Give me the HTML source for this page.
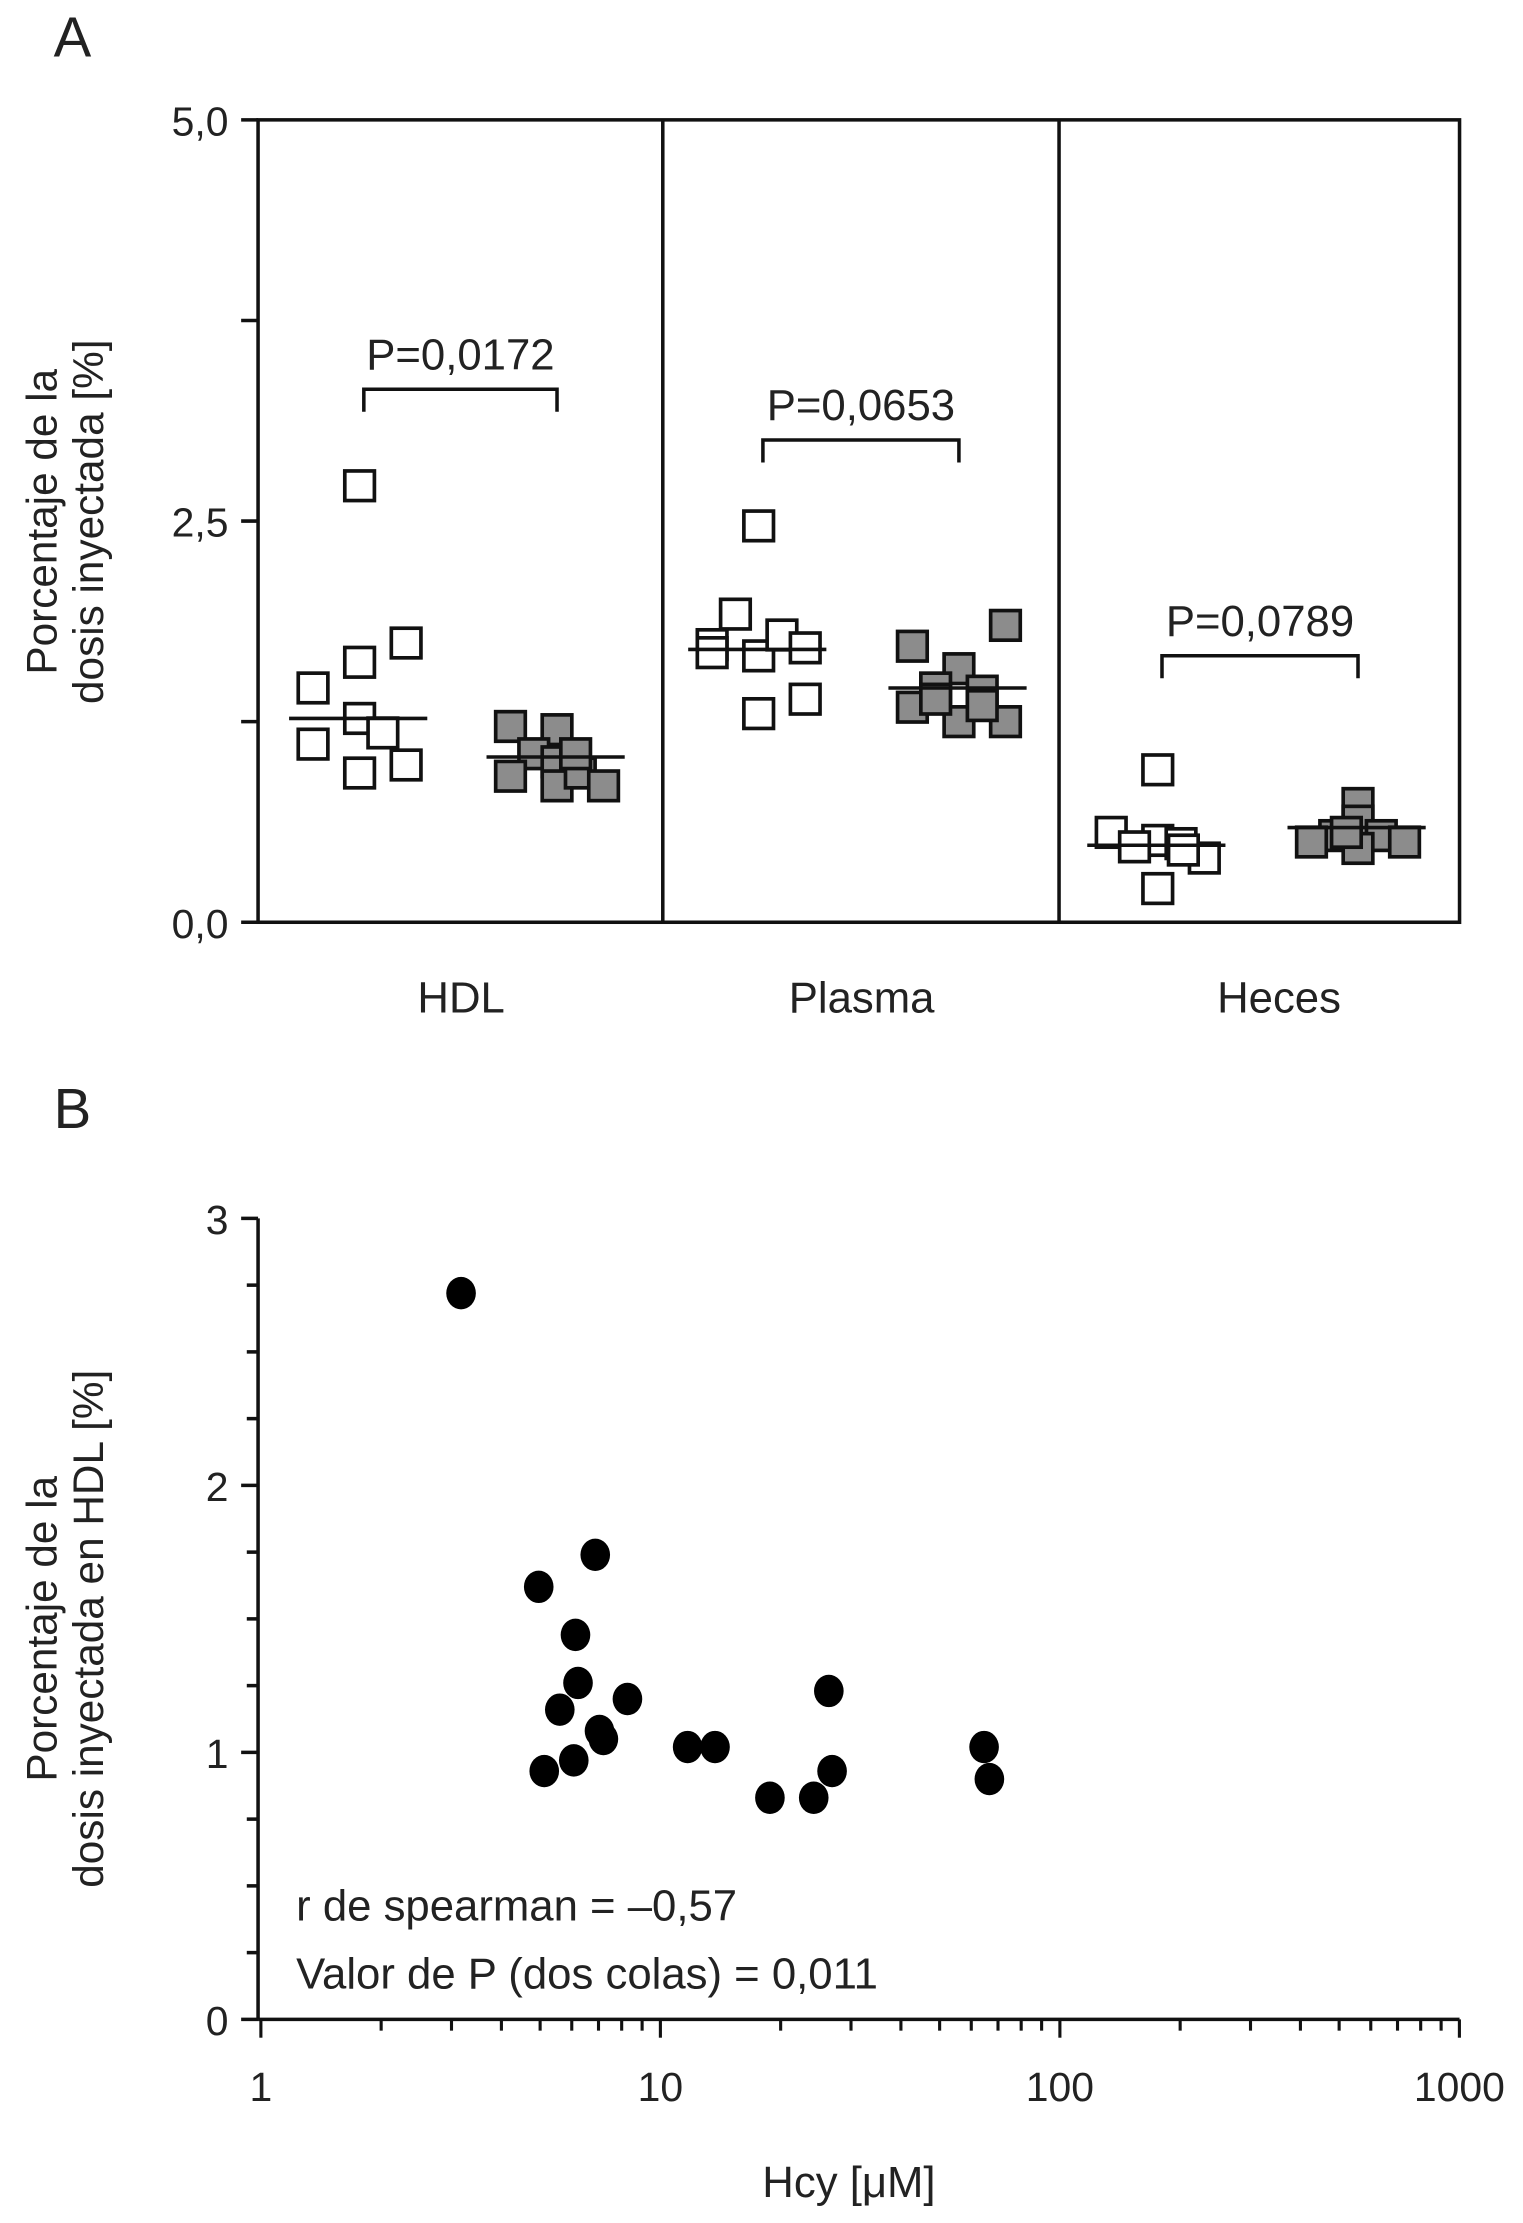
<!DOCTYPE html>
<html><head><meta charset="utf-8"><style>
html,body{margin:0;padding:0;background:#fff}
svg{display:block}
text{font-family:"Liberation Sans",Arial,sans-serif;fill:#222}
</style></head><body>
<svg id="fig" width="1523" height="2223" viewBox="0 0 1080 1576.4" preserveAspectRatio="none">
<text x="38" y="40" font-size="40">A</text>
<text x="38" y="800" font-size="40">B</text>
<g id="A"></g>
<g id="B"></g>
</svg>
<script>
// Panel A data
const groupNames = ["HDL","Plasma","Heces"];
const pLabels = ["P=0,0172","P=0,0653","P=0,0789"];
const hdlWhite = [2.72,1.46,1.62,1.74,1.11,1.27,1.18,0.93,0.98];
const hdlWhiteX = [0,-1,0,1,-1,0,0.5,0,1];
const hdlGray = [1.22,1.20,1.05,1.0,0.91,0.85,0.93,0.85,1.05];
const hdlGrayX = [-1,0,-0.5,0,-1,0,0.5,1,0.4];
const plasmaWhite = [2.47,1.92,1.73,1.66,1.79,1.71,1.30,1.39,1.68];
const plasmaWhiteX = [0,-0.5,-1,0,0.5,1,0,1,-1];
const plasmaGray = [1.72,1.85,1.58,1.46,1.44,1.34,1.25,1.25,1.39,1.35];
const plasmaGrayX = [-1,1,0,-0.5,0.5,-1,0,1,-0.5,0.5];
const hecesWhite = [0.95,0.56,0.51,0.49,0.40,0.21,0.47,0.45];
const hecesWhiteX = [0,-1,0,0.5,1,0,-0.5,0.55];
const hecesGray = [0.74,0.63,0.54,0.54,0.50,0.50,0.46,0.56];
const hecesGrayX = [0,0,-0.5,0.5,-1,1,0,-0.25];
const meansWhite = [1.27,1.70,0.48];
const meansGray = [1.03,1.46,0.59];
const aTicks = [0,2.5,5];
const aTickLabels = ["0,0","2,5","5,0"];
// Panel B data
const hcy = [3.17,4.96,6.87,6.13,6.22,5.6,8.27,7.04,7.2,5.12,6.07,11.7,13.7,18.8,24.2,26.4,26.9,64.6,66.6];
const hdlPct = [2.72,1.62,1.74,1.44,1.26,1.16,1.20,1.08,1.05,0.93,0.97,1.02,1.02,0.83,0.83,1.23,0.93,1.02,0.90];
const bYTicks = [0,1,2,3];
const bXTicks = [1,10,100,1000];

const NS="http://www.w3.org/2000/svg";
function mk(parent,tag,attrs,name,txt){const e=document.createElementNS(NS,tag);for(const k in attrs)e.setAttribute(k,attrs[k]);


if(txt!==undefined)e.textContent=txt;parent.appendChild(e);return e;}

// ---- Panel A
const A=document.getElementById('A');
const aL=183,aR=1035,aT=85,aB=654;
const ay=v=>aB-(aB-aT)*v/5;
mk(A,'rect',{x:aL,y:aT,width:aR-aL,height:aB-aT,fill:'none',stroke:'#111','stroke-width':2.5},'plot-frame-a');
[470,751].forEach((x,i)=>mk(A,'line',{x1:x,x2:x,y1:aT,y2:aB,stroke:'#111','stroke-width':2.5},'group-divider'));
[0,1.25,2.5,3.75,5].forEach(v=>mk(A,'line',{x1:aL-12,x2:aL,y1:ay(v),y2:ay(v),stroke:'#111','stroke-width':2.5},'y-tick'));
aTicks.forEach((v,i)=>mk(A,'text',{x:162,y:ay(v)+11,'font-size':29,'text-anchor':'end'},'y-tick-label',aTickLabels[i]));
const yt=mk(A,'text',{transform:'translate(40,370) rotate(-90)','font-size':30,'text-anchor':'middle'},'y-axis-title');
mk(yt,'tspan',{x:0,y:0},'y-title-line1','Porcentaje de la');
mk(yt,'tspan',{x:0,y:33},'y-title-line2','dosis inyectada [%]');
const centers=[[255,395],[538,680],[821,963]];
const labelX=[327,611,907];
groupNames.forEach((g,i)=>mk(A,'text',{x:labelX[i],y:718,'font-size':31,'text-anchor':'middle'},'x-category-label',g));
const sets=[[hdlWhite,hdlWhiteX,hdlGray,hdlGrayX],[plasmaWhite,plasmaWhiteX,plasmaGray,plasmaGrayX],[hecesWhite,hecesWhiteX,hecesGray,hecesGrayX]];
const S=21,dx=33;
sets.forEach((s,i)=>{
  const [wv,wx,gv,gx]=s;
  wv.forEach((v,j)=>mk(A,'rect',{x:centers[i][0]+wx[j]*dx-S/2,y:ay(v)-S/2,width:S,height:S,fill:'#fff',stroke:'#111','stroke-width':2.6},'control-point'));
  gv.forEach((v,j)=>mk(A,'rect',{x:centers[i][1]+gx[j]*dx-S/2,y:ay(v)-S/2,width:S,height:S,fill:'#8c8c8c',stroke:'#111','stroke-width':2.6},'treated-point'));
  mk(A,'line',{x1:centers[i][0]-50,x2:centers[i][0]+48,y1:ay(meansWhite[i]),y2:ay(meansWhite[i]),stroke:'#111','stroke-width':2.5},'mean-line-control');
  mk(A,'line',{x1:centers[i][1]-50,x2:centers[i][1]+48,y1:ay(meansGray[i]),y2:ay(meansGray[i]),stroke:'#111','stroke-width':2.5},'mean-line-treated');
});
const brY=[276,312,465];
brY.forEach((y,i)=>{
  const x1=centers[i][0]+3,x2=centers[i][1];
  mk(A,'path',{d:`M${x1},${y+16}V${y}H${x2}V${y+16}`,fill:'none',stroke:'#111','stroke-width':2.5},'significance-bracket');
  mk(A,'text',{x:(x1+x2)/2,y:y-14,'font-size':31,'text-anchor':'middle'},'p-value-label',pLabels[i]);
});

// ---- Panel B
const B=document.getElementById('B');
const bL=183,bR=1035,bT=864,bB=1432;
const by=v=>bB-(bB-bT)*v/3;
const bx=v=>185+283.3*Math.log10(v);
mk(B,'line',{x1:bL,x2:bL,y1:bT,y2:bB,stroke:'#111','stroke-width':2.5},'y-axis-b');
mk(B,'line',{x1:bL,x2:bR,y1:bB,y2:bB,stroke:'#111','stroke-width':2.5},'x-axis-b');
for(let k=0;k<=12;k++){const v=k*0.25;const maj=k%4===0;
  mk(B,'line',{x1:bL-(maj?12:8),x2:bL,y1:by(v),y2:by(v),stroke:'#111','stroke-width':2.5},'y-tick-b');}
bYTicks.forEach(v=>mk(B,'text',{x:162,y:by(v)+11,'font-size':29,'text-anchor':'end'},'y-tick-label-b',String(v)));
for(let d=0;d<3;d++)for(let m=1;m<=9;m++){const v=Math.pow(10,d)*m;
  mk(B,'line',{x1:bx(v),x2:bx(v),y1:bB,y2:bB+(m===1?13:8),stroke:'#111','stroke-width':2.2},'x-tick-b');}
mk(B,'line',{x1:bx(1000),x2:bx(1000),y1:bB,y2:bB+13,stroke:'#111','stroke-width':2.2},'x-tick-b');
bXTicks.forEach(v=>mk(B,'text',{x:bx(v),y:1490,'font-size':29,'text-anchor':'middle'},'x-tick-label-b',String(v)));
mk(B,'text',{x:602,y:1558,'font-size':31,'text-anchor':'middle'},'x-axis-title-b','Hcy [μM]');
const yt2=mk(B,'text',{transform:'translate(40,1155) rotate(-90)','font-size':30,'text-anchor':'middle'},'y-axis-title-b');
mk(yt2,'tspan',{x:0,y:0},'y-title-b-line1','Porcentaje de la');
mk(yt2,'tspan',{x:0,y:33},'y-title-b-line2','dosis inyectada en HDL [%]');
hcy.forEach((v,i)=>mk(B,'ellipse',{cx:bx(v),cy:by(hdlPct[i]),rx:10.5,ry:11.5,fill:'#000'},'scatter-point'));
mk(B,'text',{x:210,y:1362,'font-size':31},'spearman-annotation','r de spearman = –0,57');
mk(B,'text',{x:210,y:1410,'font-size':31},'p-value-annotation','Valor de P (dos colas) = 0,011');
</script>
</body></html>
